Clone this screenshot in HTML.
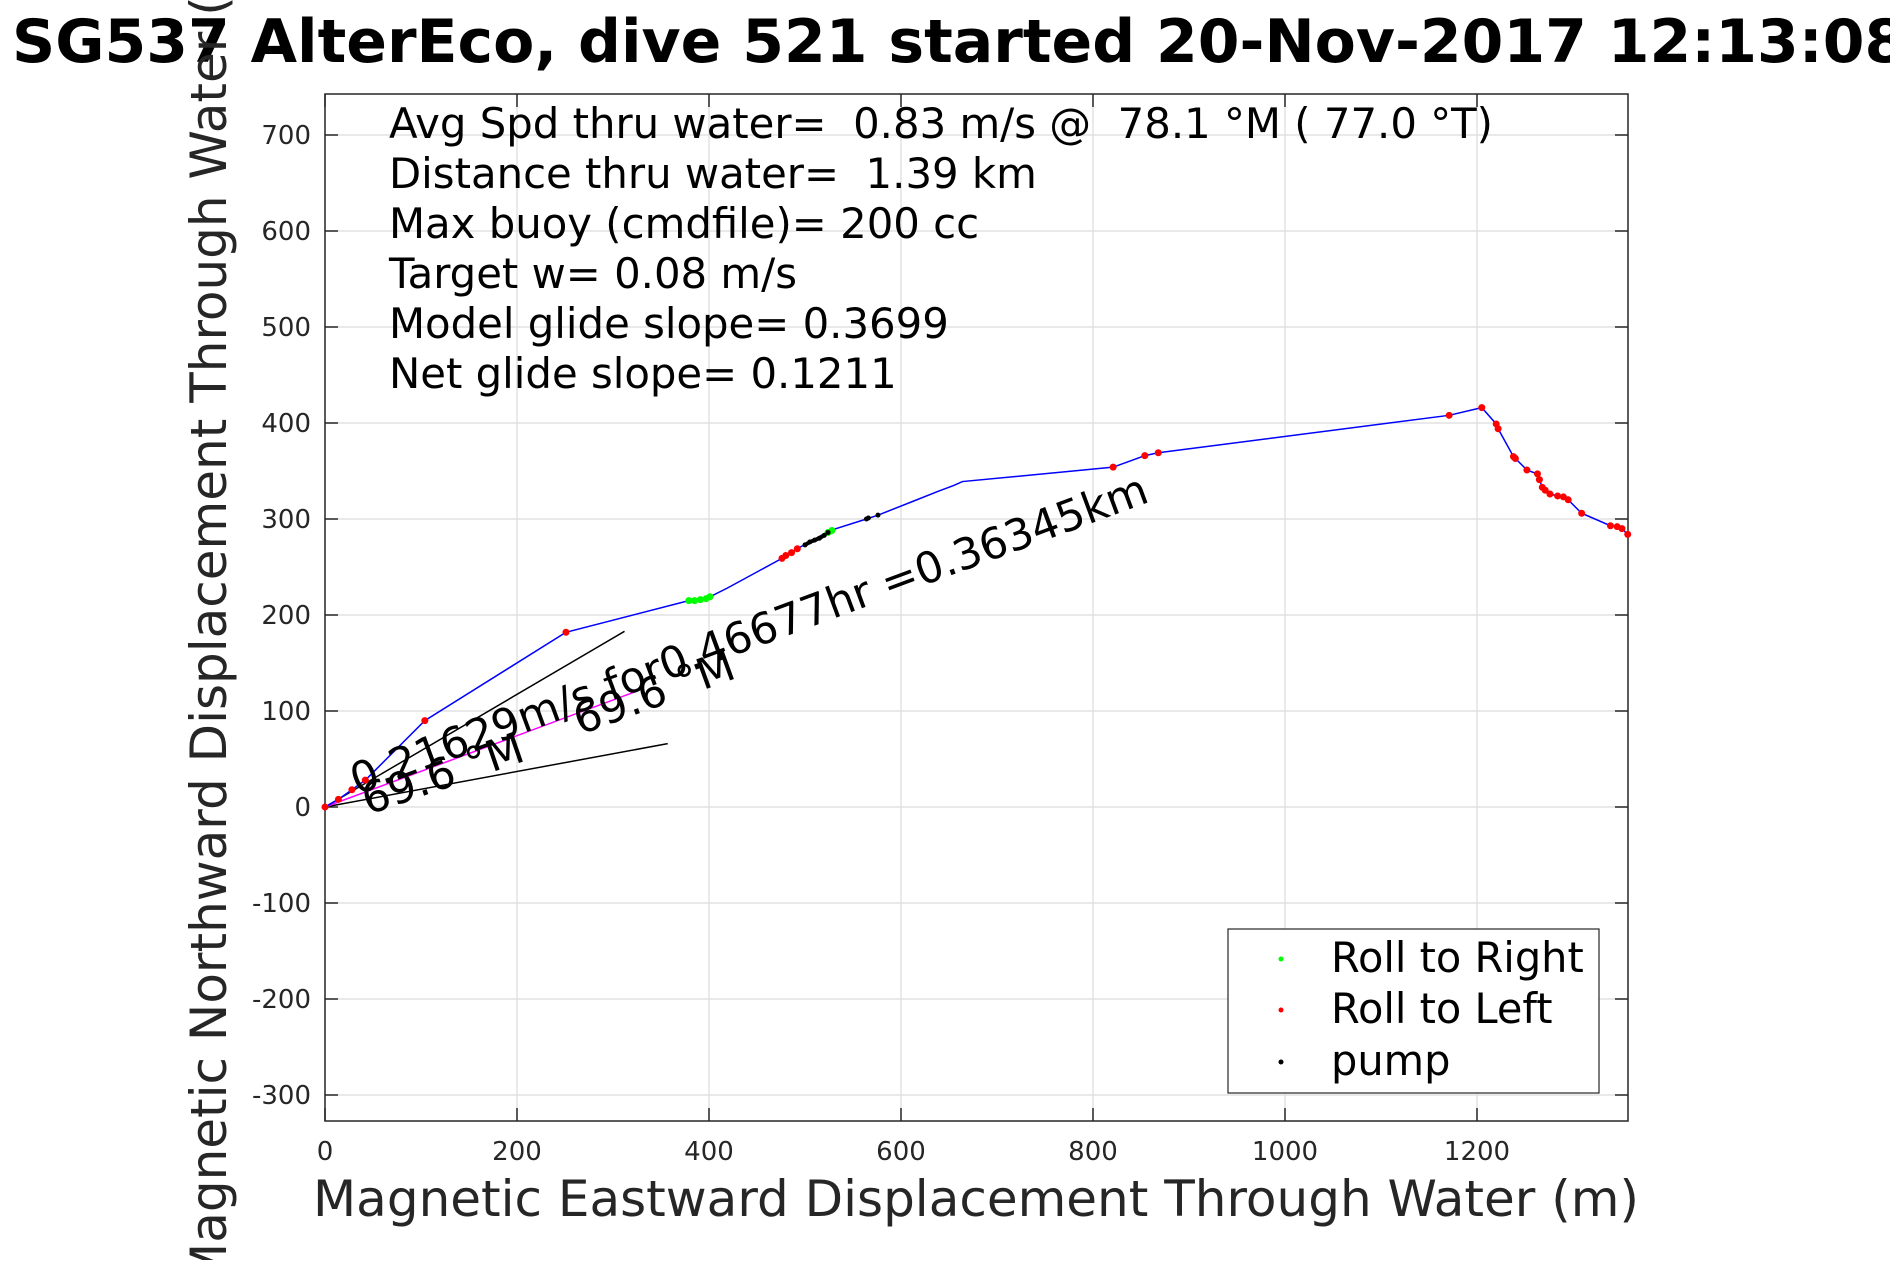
<!DOCTYPE html>
<html><head><meta charset="utf-8"><style>
body{margin:0;background:#fff;}
svg text{font-family:"DejaVu Sans","Liberation Sans",sans-serif;white-space:pre;}
</style></head><body>
<svg width="1890" height="1260" viewBox="0 0 1890 1260">
<rect width="1890" height="1260" fill="#fff"/>
<g id="grid"></g>
<g id="ticks"></g>
<rect x="325" y="94" width="1303" height="1027" fill="none" stroke="#262626" stroke-width="1.5"/>
<g id="marks"></g>
<text x="12" y="62" font-size="60" font-weight="bold" fill="#000">SG537 AlterEco, dive 521 started 20-Nov-2017 12:13:08</text>
<g font-size="41.8" fill="#000">
<text x="389" y="138">Avg Spd thru water=  0.83 m/s @  78.1 °M ( 77.0 °T)</text>
<text x="389" y="188">Distance thru water=  1.39 km</text>
<text x="389" y="238">Max buoy (cmdfile)= 200 cc</text>
<text x="389" y="288">Target w= 0.08 m/s</text>
<text x="389" y="338">Model glide slope= 0.3699</text>
<text x="389" y="388">Net glide slope= 0.1211</text>
</g>
<text x="357" y="795" font-size="43" fill="#000" transform="rotate(-20.3 357 795)">0.21629m/s for0.46677hr =0.36345km</text>
<text x="368" y="815" font-size="43" fill="#000" transform="rotate(-19 368 815)">69.6 °M</text>
<text x="580" y="735" font-size="43" fill="#000" transform="rotate(-20 580 735)">69.6 °M</text>
<text x="976" y="1216" font-size="50" fill="#262626" text-anchor="middle">Magnetic Eastward Displacement Through Water (m)</text>
<text x="0" y="0" font-size="50" fill="#262626" text-anchor="middle" transform="translate(226 607) rotate(-90)">Magnetic Northward Displacement Through Water (m)</text>
<g>
<rect x="1228" y="929" width="371" height="164" fill="#fff" stroke="#262626" stroke-width="1.2"/>
<circle cx="1281" cy="959" r="2.5" fill="#00ff00"/>
<text x="1331" y="972" font-size="41.5" fill="#000">Roll to Right</text>
<circle cx="1281" cy="1010" r="2.5" fill="#ff0000"/>
<text x="1331" y="1023" font-size="41.5" fill="#000">Roll to Left</text>
<circle cx="1281" cy="1062" r="2.5" fill="#000"/>
<text x="1331" y="1075" font-size="41.5" fill="#000">pump</text>
</g>
</svg>
<script>
const xTicks=[0,200,400,600,800,1000,1200];
const yTicks=[-300,-200,-100,0,100,200,300,400,500,600,700];
const trackX=[0,14,28,42,104,251,379,401,419,476,480,486,492,526,564,576,614,639,655,664,821,854,868,1171,1205,1220,1222,1238,1240,1252,1263,1265,1268,1271,1276,1284,1290,1295,1309,1339,1346,1351,1357];
const trackY=[0,8,18,28,90,182,215,219,228,259,262,265,269,288,300,304,319,329,335,339,354,366,369,408,416,399,394,365,363,351,347,341,333,330,326,324,323,320,306,293,292,290,284];
const redIdx=[0,1,2,3,4,5,9,10,11,12,20,21,22,23,24,25,26,27,28,29,30,31,32,33,34,35,36,37,38,39,40,41,42];
const greenX=[379,385,391,397,401,524,528];
const greenY=[215,215,216,217,219,286,288];
const pumpX=[500,505,510,515,520,524,564,566,576];
const pumpY=[273,276,278,280,283,286,300,301,304];
const currentX=[0,323];const currentY=[0,120];
const headX1=[0,312];const headY1=[0,183];
const headX2=[0,357];const headY2=[0,66];
const X=v=>325+v*0.96, Y=v=>807-v*0.96;
const NS="http://www.w3.org/2000/svg";
function mk(tag,attrs,parent){const e=document.createElementNS(NS,tag);for(const k in attrs)e.setAttribute(k,attrs[k]);document.getElementById(parent).appendChild(e);return e;}
xTicks.forEach(t=>{
 const g=mk('line',{x1:X(t),x2:X(t),y1:94,y2:1121,stroke:'#dcdcdc','stroke-width':1.2},'grid');
 
 
 const a=mk('line',{x1:X(t),x2:X(t),y1:1121,y2:1108,stroke:'#262626','stroke-width':1.5},'ticks');
 
 
 const b=mk('line',{x1:X(t),x2:X(t),y1:94,y2:107,stroke:'#262626','stroke-width':1.5},'ticks');
 
 
 const l=mk('text',{x:X(t),y:1160,'font-size':26,'text-anchor':'middle',fill:'#262626'},'ticks');
 l.textContent=t;
 
 
});
yTicks.forEach(t=>{
 const g=mk('line',{x1:325,x2:1628,y1:Y(t),y2:Y(t),stroke:'#dcdcdc','stroke-width':1.2},'grid');
 
 
 const a=mk('line',{x1:325,x2:338,y1:Y(t),y2:Y(t),stroke:'#262626','stroke-width':1.5},'ticks');
 
 
 const b=mk('line',{x1:1615,x2:1628,y1:Y(t),y2:Y(t),stroke:'#262626','stroke-width':1.5},'ticks');
 
 
 const l=mk('text',{x:311,y:Y(t)+9,'font-size':26,'text-anchor':'end',fill:'#262626'},'ticks');
 l.textContent=t;
 
 
});
function line(xs,ys,color,name,w){
 const p=mk('polyline',{points:xs.map((v,i)=>X(v)+','+Y(ys[i])).join(' '),fill:'none',stroke:color,'stroke-width':w||1.5},'marks');
 
 
}
line(headX1,headY1,'#000','heading-line-1');
line(headX2,headY2,'#000','heading-line-2');
line(currentX,currentY,'#ff00ff','current-vector');
line(trackX,trackY,'#0000ff','glider-track');
line(pumpX.slice(0,6),pumpY.slice(0,6),'#000','pump-segment',4);
redIdx.forEach(i=>{
 const c=mk('circle',{cx:X(trackX[i]),cy:Y(trackY[i]),r:3.5,fill:'#ff0000'},'marks');
 
 
});
greenX.forEach((v,i)=>{
 const c=mk('circle',{cx:X(v),cy:Y(greenY[i]),r:3.5,fill:'#00ff00'},'marks');
 
 
});
pumpX.forEach((v,i)=>{
 const c=mk('circle',{cx:X(v),cy:Y(pumpY[i]),r:2.5,fill:'#000'},'marks');
 
 
});
</script>
</body></html>
